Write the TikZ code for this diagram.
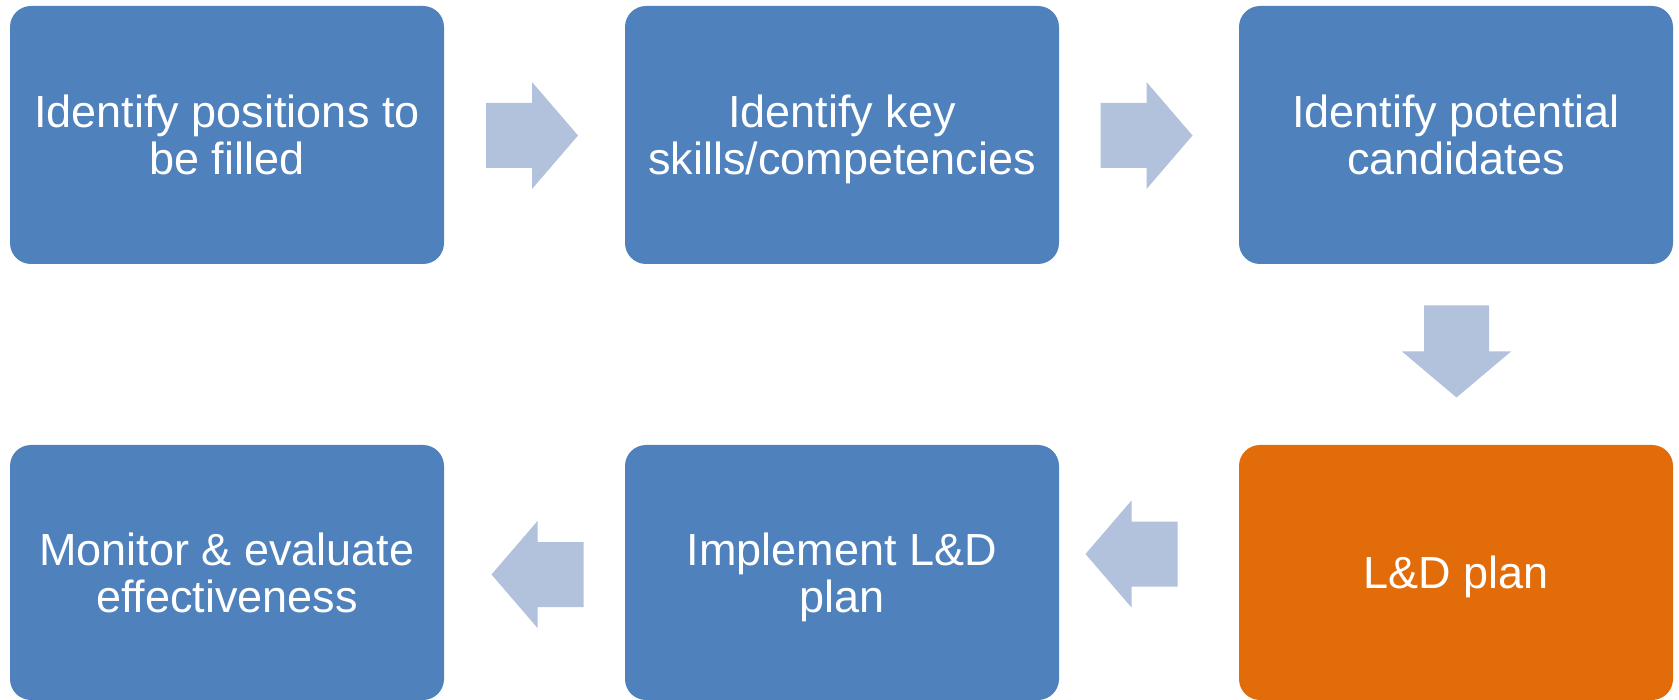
\documentclass[tikz,border=0pt]{standalone}
\usepackage{fontspec}
\setmainfont{Liberation Sans}
\definecolor{boxblue}{HTML}{4F81BD}
\definecolor{boxorange}{HTML}{E36C0A}
\definecolor{arrowblue}{HTML}{B2C1DC}
\begin{document}
\begin{tikzpicture}[x=1pt,y=-1pt,
  stepbox/.style={draw=none, fill=boxblue, rounded corners=21pt, minimum width=434pt,
    inner sep=0pt, align=center, text=white, text depth=0pt, font=\fontsize{45pt}{47pt}\selectfont},
  rarrow/.pic={\fill[arrowblue] (-46,-32.5) -- (0,-32.5) -- (0,-53.5) -- (46,0) -- (0,53.5) -- (0,32.5) -- (-46,32.5) -- cycle;},
  larrow/.pic={\fill[arrowblue] (46,-32.5) -- (0,-32.5) -- (0,-53.5) -- (-46,0) -- (0,53.5) -- (0,32.5) -- (46,32.5) -- cycle;},
  darrow/.pic={\fill[arrowblue] (-32.5,-46) -- (-32.5,0) -- (-54.5,0) -- (0,46) -- (54.5,0) -- (32.5,0) -- (32.5,-46) -- cycle;}
]
\useasboundingbox[fill=white] (0,0) rectangle (1679,700);
\node[stepbox, minimum height=258pt] (b1) at (227,135) {Identify positions to\\be filled};
\node[stepbox, minimum height=258pt] (b2) at (842,135) {Identify key\\skills/competencies};
\node[stepbox, minimum height=258pt] (b3) at (1456,135) {Identify potential\\candidates};
\node[stepbox, minimum height=255pt, fill=boxorange] (b4) at (1456,572.5) {L\&D plan};
\node[stepbox, minimum height=255pt] (b5) at (842,572.5) {Implement L\&D\\plan};
\node[stepbox, minimum height=255pt] (b6) at (227,572.5) {Monitor \& evaluate\\effectiveness};
\pic (a1) at (532,135.5) {rarrow};
\pic (a2) at (1146.5,135.5) {rarrow};
\pic (a3) at (1456.5,351.5) {darrow};
\pic (a4) at (1131.5,554) {larrow};
\pic (a5) at (537.5,574.5) {larrow};
\end{tikzpicture}
\end{document}
